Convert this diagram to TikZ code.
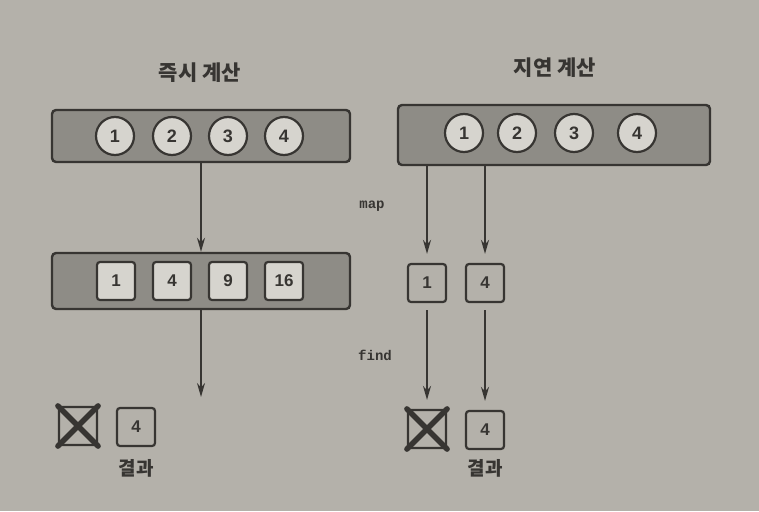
\documentclass[tikz,border=0pt]{standalone}
\usepackage{fontspec}
\setmainfont{Liberation Sans}
\setmonofont{Liberation Mono}
\newfontfamily\kofont{Noto Sans CJK KR}
\usetikzlibrary{arrows.meta}

\definecolor{paper}{RGB}{180,177,170}
\definecolor{barfill}{RGB}{142,140,134}
\definecolor{cellfill}{RGB}{214,212,206}
\definecolor{ink}{RGB}{55,53,50}

\begin{document}
\begin{tikzpicture}[x=1pt, y=-1pt, >={Stealth[length=14pt,width=8pt]},
  title/.style={font=\kofont\bfseries\fontsize{21}{24}\selectfont, text=ink},
  bar/.style={draw=ink, line width=2.4pt, fill=barfill, rounded corners=4pt},
  num/.style={circle, draw=ink, line width=2.2pt, fill=cellfill, minimum size=38pt, inner sep=0pt,
    font=\bfseries\fontsize{18}{20}\selectfont, text=ink},
  cell/.style={draw=ink, line width=2.2pt, fill=cellfill, rounded corners=3pt, minimum size=38pt,
    inner sep=0pt, font=\bfseries\fontsize{17}{20}\selectfont, text=ink},
  opname/.style={font=\ttfamily\bfseries\fontsize{14}{16}\selectfont, text=ink},
  result/.style={font=\kofont\bfseries\fontsize{19}{22}\selectfont, text=ink},
  flow/.style={->, draw=ink, line width=1.8pt},
  cross/.style={draw=ink, line width=5.5pt, line cap=round}]

  % page
  \fill[paper] (0,0) rectangle (759,511);
  \useasboundingbox (0,0) rectangle (759,511);

  % eager evaluation (left)
  \node[title] (ltitle) at (200,73) {즉시 계산};
  \node[bar, minimum width=298pt, minimum height=52pt] (lbar) at (201,136) {};
  \foreach \n/\x in {1/115,2/172,3/228,4/284}
    \node[num] (lc\n) at (\x,136) {\n};

  \node[bar, minimum width=298pt, minimum height=56pt] (lbar2) at (201,281) {};
  \foreach \n/\x/\v in {1/116/1,2/172/4,3/228/9,4/284/16}
    \node[cell] (ls\n) at (\x,281) {\v};

  \draw[flow] (lbar) -- (lbar2);
  \coordinate (lend) at (201,397);
  \draw[flow] (lbar2) -- (lend);

  \node[cell, fill=none] (lx) at (78,426) {};
  \draw[cross] (lx.north west) -- (lx.south east);
  \draw[cross] (lx.north east) -- (lx.south west);
  \node[cell, fill=none] (lr) at (136,427) {4};
  \node[result] (lres) at (136,468) {결과};

  % lazy evaluation (right)
  \node[title] (rtitle) at (555,68) {지연 계산};
  \node[bar, minimum width=312pt, minimum height=60pt] (rbar) at (554,135) {};
  \foreach \n/\x in {1/464,2/517,3/574,4/637}
    \node[num] (rc\n) at (\x,133) {\n};

  \node[cell, fill=none] (rm1) at (427,283) {1};
  \node[cell, fill=none] (rm2) at (485,283) {4};
  \node[opname] (map) at (372,206) {map};
  \draw[flow, shorten >=9pt] (rbar.south -| rm1) -- (rm1);
  \draw[flow, shorten >=9pt] (rbar.south -| rm2) -- (rm2);

  \node[cell, fill=none] (rx) at (427,429) {};
  \draw[cross] (rx.north west) -- (rx.south east);
  \draw[cross] (rx.north east) -- (rx.south west);
  \node[cell, fill=none] (rr) at (485,430) {4};
  \node[result] (rres) at (485,468) {결과};
  \node[opname] (find) at (375,355) {find};
  \draw[flow, shorten <=7pt, shorten >=9pt] (rm1) -- (rx);
  \draw[flow, shorten <=7pt, shorten >=9pt] (rm2) -- (rr);
\end{tikzpicture}
\end{document}
